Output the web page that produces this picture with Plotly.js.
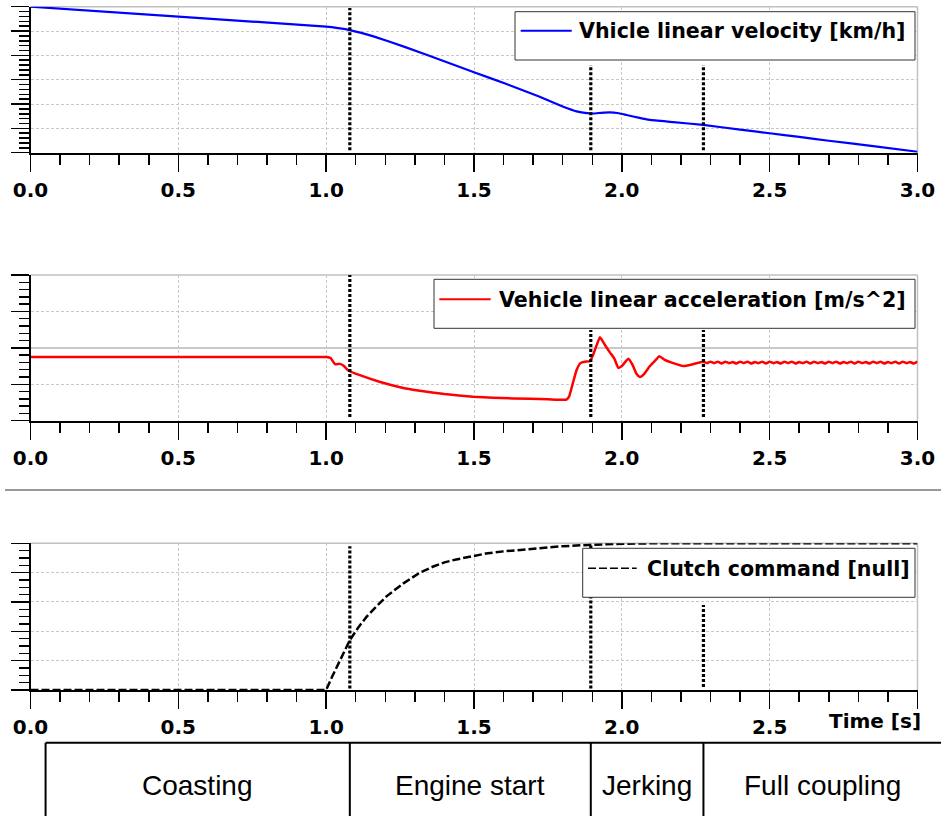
<!DOCTYPE html>
<html>
<head>
<meta charset="utf-8">
<script src="https://cdn.plot.ly/plotly-3.0.1.min.js"></script>
<style>html,body{margin:0;padding:0;background:#fff;}#chart{width:941px;height:816px;}</style>
</head>
<body>
<div id="chart"></div>
<script>
// ---------------- data ----------------
const timeVel = [0, 0.5, 1.0, 1.04, 1.08, 1.16, 1.27, 1.39, 1.5, 1.61, 1.72, 1.8, 1.847, 1.875, 1.903, 1.93, 1.96, 1.99, 2.016, 2.06, 2.095, 2.174, 2.275, 2.4, 2.5, 2.6, 2.7, 2.85, 3.0];
const velocity = [6.0, 5.59, 5.18, 5.12, 5.04, 4.78, 4.33, 3.8, 3.31, 2.82, 2.31, 1.9, 1.7, 1.64, 1.61, 1.64, 1.66, 1.62, 1.55, 1.43, 1.35, 1.26, 1.14, 0.95, 0.8, 0.65, 0.49, 0.27, 0.04];

const timeAcc = [0, 0.5, 0.98, 1.0, 1.015, 1.03, 1.047, 1.06, 1.075, 1.114, 1.18, 1.25, 1.317, 1.4, 1.497, 1.633, 1.75, 1.813, 1.822, 1.835, 1.847, 1.86, 1.875, 1.892, 1.905, 1.926, 1.945, 1.96, 1.975, 1.988, 2.0, 2.022, 2.035, 2.05, 2.061, 2.075, 2.095, 2.115, 2.127, 2.145, 2.174, 2.208, 2.24, 2.275,
  2.2875, 2.3, 2.3125, 2.325, 2.3375, 2.35, 2.3625, 2.375, 2.3875, 2.4, 2.4125, 2.425, 2.4375, 2.45, 2.4625, 2.475, 2.4875, 2.5, 2.5125, 2.525, 2.5375, 2.55, 2.5625, 2.575, 2.5875, 2.6, 2.6125, 2.625, 2.6375, 2.65, 2.6625, 2.675, 2.6875, 2.7, 2.7125, 2.725, 2.7375, 2.75, 2.7625, 2.775, 2.7875, 2.8, 2.8125, 2.825, 2.8375, 2.85, 2.8625, 2.875, 2.8875, 2.9, 2.9125, 2.925, 2.9375, 2.95, 2.9625, 2.975, 2.9875, 3.0];
const acceleration = [-0.25, -0.25, -0.25, -0.25, -0.28, -0.45, -0.44, -0.5, -0.62, -0.75, -0.93, -1.08, -1.18, -1.27, -1.34, -1.39, -1.41, -1.42, -1.33, -0.95, -0.61, -0.42, -0.38, -0.37, -0.15, 0.29, 0.05, -0.13, -0.3, -0.55, -0.5, -0.3, -0.45, -0.72, -0.8, -0.72, -0.5, -0.33, -0.23, -0.33, -0.42, -0.5, -0.45, -0.38,
  -0.42, -0.38, -0.42, -0.38, -0.43, -0.38, -0.42, -0.39, -0.43, -0.38, -0.42, -0.38, -0.43, -0.39, -0.42, -0.38, -0.43, -0.38, -0.42, -0.39, -0.43, -0.38, -0.42, -0.38, -0.43, -0.39, -0.42, -0.38, -0.43, -0.38, -0.42, -0.39, -0.43, -0.38, -0.42, -0.38, -0.43, -0.39, -0.42, -0.38, -0.43, -0.38, -0.42, -0.39, -0.43, -0.38, -0.42, -0.38, -0.43, -0.39, -0.42, -0.38, -0.43, -0.38, -0.42, -0.39, -0.43, -0.38, -0.4];

const timeClutch = [0, 0.5, 1.0, 1.02, 1.047, 1.08, 1.11, 1.137, 1.17, 1.205, 1.26, 1.317, 1.36, 1.4, 1.44, 1.486, 1.54, 1.6, 1.66, 1.712, 1.76, 1.8, 1.886, 1.95, 2.0, 2.1, 2.5, 3.0];
const clutch = [0, 0, 0, 0.09, 0.205, 0.34, 0.43, 0.5, 0.57, 0.64, 0.725, 0.8, 0.84, 0.87, 0.89, 0.91, 0.93, 0.945, 0.957, 0.966, 0.974, 0.98, 0.989, 0.994, 0.997, 1.0, 1.0, 1.0];

const seriesNames = ['Vhicle linear velocity [km/h]', 'Vehicle linear acceleration [m/s^2]', 'Clutch command [null]'];
const phaseBounds = [1.08, 1.895, 2.276];
const phaseNames = ['Coasting', 'Engine start', 'Jerking', 'Full coupling'];
const xTickVals = [0, 0.5, 1.0, 1.5, 2.0, 2.5, 3.0];
const xTickText = ['0.0', '0.5', '1.0', '1.5', '2.0', '2.5', '3.0'];
const xTickText3 = ['0.0', '0.5', '1.0', '1.5', '2.0', '2.5', ''];
const xAxisTitle = 'Time [s]';

// ---------------- layout helpers ----------------
const W = 941, H = 816;
const px = x => x / W;
const py = y => 1 - y / H;
const BOLD = {family: 'DejaVu Sans, Verdana, sans-serif', size: 20, color: '#000', weight: 'bold'};
const GRID = '#c8c8c8';

function xAxis(anchor, ticktext) {
  return {
    domain: [px(30.5), px(917.5)], range: [0, 3], anchor: anchor, fixedrange: true,
    tickmode: 'array', tickvals: xTickVals, ticktext: ticktext,
    ticks: 'outside', ticklen: 17, tickwidth: 1.5, tickcolor: '#000',
    minor: {tick0: 0, dtick: 0.1, ticks: 'outside', ticklen: 10, tickwidth: 1.5, tickcolor: '#000', showgrid: false},
    showgrid: true, gridcolor: GRID, gridwidth: 1, griddash: '3px,2px',
    showline: true, linecolor: '#000', linewidth: 2, zeroline: false,
    tickfont: BOLD, ticklabelstandoff: 1
  };
}
function yAxis(anchor, dom, range, dtick, minorDtick, zero) {
  return {
    domain: [py(dom[1]), py(dom[0])], range: range, anchor: anchor, fixedrange: true,
    tick0: range[0], dtick: dtick, ticks: 'outside', ticklen: 18, tickwidth: 1.5, tickcolor: '#000',
    minor: {tick0: range[0], dtick: minorDtick, ticks: 'outside', ticklen: 10, tickwidth: 1.5, tickcolor: '#000', showgrid: false},
    showticklabels: false,
    showgrid: true, gridcolor: GRID, gridwidth: 1, griddash: '3px,2px',
    showline: true, linecolor: '#000', linewidth: 2,
    zeroline: !!zero, zerolinecolor: GRID, zerolinewidth: 1.5
  };
}

const traces = [
  {x: timeVel, y: velocity, xaxis: 'x', yaxis: 'y', type: 'scatter', mode: 'lines', name: seriesNames[0],
   line: {color: '#0000ff', width: 2.2, shape: 'spline', smoothing: 0.3}, cliponaxis: false, hoverinfo: 'skip'},
  {x: timeAcc, y: acceleration, xaxis: 'x2', yaxis: 'y2', type: 'scatter', mode: 'lines', name: seriesNames[1],
   line: {color: '#ff0000', width: 2.5, shape: 'spline', smoothing: 0.4}, cliponaxis: false, hoverinfo: 'skip'},
  {x: timeClutch, y: clutch, xaxis: 'x3', yaxis: 'y3', type: 'scatter', mode: 'lines', name: seriesNames[2],
   line: {color: '#000', width: 2.5, dash: '8px,3px'}, cliponaxis: false, hoverinfo: 'skip'}
];

const shapes = [];
const annotations = [];

// subplot frames (top & right, light grey)
[['x', 'y'], ['x2', 'y2'], ['x3', 'y3']].forEach(([xa, ya]) => {
  shapes.push({type: 'line', xref: xa + ' domain', yref: ya + ' domain', x0: 0, x1: 1, y0: 1, y1: 1, line: {color: '#c0c0c0', width: 1.5}, layer: 'below'});
  shapes.push({type: 'line', xref: xa + ' domain', yref: ya + ' domain', x0: 1, x1: 1, y0: 0, y1: 1, line: {color: '#c0c0c0', width: 1.5}, layer: 'below'});
});

// phase boundary dotted lines
const dotSpans = {
  y:  [[0.1, 5.95], [0.1, 3.6], [0.1, 3.6]],
  y2: [[-1.9, 2.0], [-1.9, 0.49], [-1.9, 0.49]],
  y3: [[0.01, 0.98], [0.01, 0.99], [0.02, 0.58]]
};
[['x', 'y'], ['x2', 'y2'], ['x3', 'y3']].forEach(([xa, ya]) => {
  phaseBounds.forEach((t, i) => {
    shapes.push({type: 'line', xref: xa, yref: ya, x0: t, x1: t, y0: dotSpans[ya][i][0], y1: dotSpans[ya][i][1],
      line: {color: '#000', width: 3.2, dash: '3px,2px'}, layer: 'above'});
  });
});

// manual legends
const legends = [
  {box: [515, 11.7, 915, 60], line: [520.7, 571.7, 30.7], textX: 577, textY: 31.5, color: '#0000ff', width: 2, dash: 'solid'},
  {box: [434, 279.3, 915, 328.3], line: [439.3, 490.7, 299.3], textX: 496.7, textY: 300, color: '#ff0000', width: 2, dash: 'solid'},
  {box: [582.7, 548.3, 915, 597.3], line: [588, 636.7, 568.3], textX: 645, textY: 568.5, color: '#000', width: 1.5, dash: '8px,3px'}
];
legends.forEach((lg, i) => {
  shapes.push({type: 'rect', xref: 'paper', yref: 'paper', x0: px(lg.box[0]), x1: px(lg.box[2]), y0: py(lg.box[3]), y1: py(lg.box[1]),
    line: {color: '#333', width: 1}, fillcolor: '#fff', layer: 'above'});
  shapes.push({type: 'line', xref: 'paper', yref: 'paper', x0: px(lg.line[0]), x1: px(lg.line[1]), y0: py(lg.line[2]), y1: py(lg.line[2]),
    line: {color: lg.color, width: lg.width, dash: lg.dash}, layer: 'above'});
  annotations.push({xref: 'paper', yref: 'paper', x: px(lg.textX), y: py(lg.textY), xanchor: 'left', yanchor: 'middle',
    text: seriesNames[i], showarrow: false, font: Object.assign({}, BOLD, {size: 20.6})});
});

// axis title of bottom plot
annotations.push({xref: 'paper', yref: 'paper', x: px(923), y: py(721), xanchor: 'right', yanchor: 'middle',
  text: xAxisTitle, showarrow: false, font: Object.assign({}, BOLD, {size: 20})});

// separator line between plots 2 and 3
shapes.push({type: 'line', xref: 'paper', yref: 'paper', x0: px(5), x1: 1, y0: py(490), y1: py(490), line: {color: '#333', width: 1}});

// phase table
const tableTop = 742.7, tableLeftT = 0.051, tableRightT = 3.08;
shapes.push({type: 'line', xref: 'paper', yref: 'paper', x0: px(45.7), x1: 1, y0: py(tableTop), y1: py(tableTop), line: {color: '#000', width: 2}});
[tableLeftT].concat(phaseBounds).forEach(t => {
  shapes.push({type: 'line', xref: 'x3', yref: 'paper', x0: t, x1: t, y0: py(tableTop), y1: py(H + 5), line: {color: '#000', width: 2}});
});
const edges = [tableLeftT].concat(phaseBounds).concat([tableRightT]);
phaseNames.forEach((name, i) => {
  annotations.push({xref: 'x3', yref: 'paper', x: (edges[i] + edges[i + 1]) / 2, y: py(785), xanchor: 'center', yanchor: 'middle',
    text: name, showarrow: false, font: {family: 'Liberation Sans, Arial, sans-serif', size: 28, color: '#000'}});
});

const layout = {
  width: W, height: H, margin: {l: 0, r: 0, t: 0, b: 0, pad: 0},
  paper_bgcolor: '#fff', plot_bgcolor: 'rgba(0,0,0,0)', showlegend: false,
  xaxis: xAxis('y', xTickText),
  xaxis2: xAxis('y2', xTickText),
  xaxis3: xAxis('y3', xTickText3),
  yaxis: yAxis('x', [6.7, 152.7], [0, 6], 1, 0.2, false),
  yaxis2: yAxis('x2', [275, 420.7], [-2, 2], 1, 0.2, true),
  yaxis3: yAxis('x3', [543.3, 690], [0, 1], 0.2, 0.05, false),
  shapes: shapes, annotations: annotations
};

Plotly.newPlot('chart', traces, layout, {displayModeBar: false, staticPlot: true});
</script>
</body>
</html>
